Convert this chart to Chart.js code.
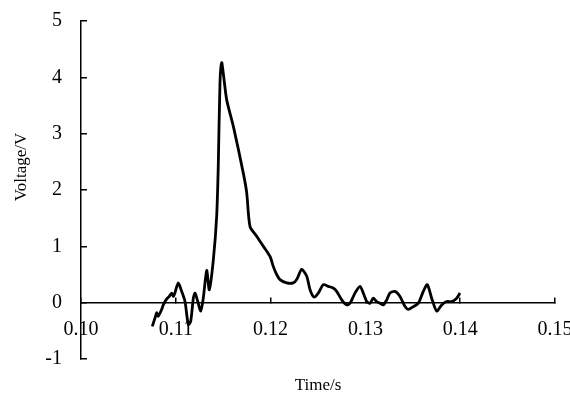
<!DOCTYPE html>
<html>
<head>
<meta charset="utf-8">
<script src="https://cdn.jsdelivr.net/npm/chart.js@4/dist/chart.umd.min.js"></script>
<style>
  html, body { margin: 0; padding: 0; background: #fff; }
  #wrap { width: 570px; height: 394px; }
</style>
</head>
<body>
<div id="wrap"><canvas id="voltageChart"></canvas></div>
<script>
// time (s) and voltage (V)
const timeValues = [
  0.10752, 0.10781, 0.10799, 0.10815, 0.10851, 0.10868, 0.10897, 0.10931, 0.10957, 0.10974,
  0.10992, 0.11026, 0.11062, 0.11097, 0.11132, 0.11157, 0.11185, 0.11203, 0.11227, 0.11263,
  0.11290, 0.11326, 0.11353, 0.11396, 0.11431, 0.11448, 0.11466, 0.11484, 0.11501, 0.11537,
  0.11607, 0.11712, 0.11748, 0.11783, 0.11853, 0.11923, 0.11994, 0.12029, 0.12064, 0.12099,
  0.12170, 0.12239, 0.12275, 0.12328, 0.12381, 0.12416, 0.12458, 0.12503, 0.12556, 0.12609,
  0.12661, 0.12697, 0.12750, 0.12803, 0.12838, 0.12890, 0.12943, 0.12978, 0.13014, 0.13049,
  0.13083, 0.13119, 0.13154, 0.13189, 0.13225, 0.13259, 0.13312, 0.13365, 0.13418, 0.13453,
  0.13505, 0.13558, 0.13611, 0.13653, 0.13699, 0.13752, 0.13805, 0.13858, 0.13910, 0.13963,
  0.13998
];
const voltageValues = [
  -0.42, -0.27, -0.18, -0.24, -0.12, -0.04, 0.05, 0.11, 0.17, 0.11,
  0.18, 0.35, 0.20, 0.02, -0.39, -0.33, 0.08, 0.17, 0.05, -0.15,
  0.08, 0.57, 0.23, 0.76, 1.53, 2.42, 3.90, 4.26, 4.07, 3.60,
  3.13, 2.30, 1.95, 1.35, 1.18, 1.00, 0.82, 0.64, 0.50, 0.41,
  0.35, 0.35, 0.41, 0.59, 0.47, 0.23, 0.10, 0.17, 0.32, 0.29,
  0.26, 0.20, 0.05, -0.04, -0.01, 0.17, 0.29, 0.17, 0.02, -0.01,
  0.08, 0.02, -0.01, -0.04, 0.05, 0.17, 0.20, 0.11, -0.07, -0.12,
  -0.07, -0.01, 0.20, 0.32, 0.08, -0.15, -0.04, 0.02, 0.02, 0.08,
  0.17
];
const xTicks = [0.10, 0.11, 0.12, 0.13, 0.14, 0.15];
const yTicks = [-1, 0, 1, 2, 3, 4, 5];
const xTitle = 'Time/s';
const yTitle = 'Voltage/V';

const serif = "'Liberation Serif', 'Times New Roman', serif";

const points = timeValues.map((t, i) => ({ x: t, y: voltageValues[i] }));

// axis titles, placed against the plot area
const axisTitles = {
  id: 'axisTitles',
  afterDraw(chart) {
    const { ctx, chartArea } = chart;
    ctx.save();
    ctx.fillStyle = '#000';
    ctx.font = '17px ' + serif;
    ctx.textAlign = 'center';
    ctx.textBaseline = 'middle';
    ctx.fillText(xTitle, (chartArea.left + chartArea.right) / 2, chartArea.bottom + 27);
    ctx.translate(chartArea.left - 59, chartArea.top + 146);
    ctx.rotate(-Math.PI / 2);
    ctx.fillText(yTitle, 0, 0);
    ctx.restore();
  }
};

const config = {
  type: 'line',
  data: {
    datasets: [
      {
        data: points,
        borderColor: '#000',
        borderWidth: 2.8,
        pointRadius: 0,
        tension: 0.25,
        fill: false,
      },
    ],
  },
  options: {
    responsive: true,
    maintainAspectRatio: false,
    animation: false,
    layout: { padding: { left: 0, top: 21, right: 15, bottom: 35 } },
    plugins: {
      legend: { display: false },
      tooltip: { enabled: false },
    },
    scales: {
      x: {
        type: 'linear',
        position: { y: 0 },
        min: xTicks[0],
        max: xTicks[xTicks.length - 1],
        afterBuildTicks: scale => {
          scale.ticks = xTicks.map(v => ({ value: v }));
        },
        afterFit: scale => {
          scale.paddingLeft = 0;
          scale.paddingRight = 0;
        },
        ticks: {
          color: '#000',
          font: { family: serif, size: 20 },
          padding: 21,
          maxRotation: 0,
          autoSkip: false,
          callback: v => Number(v).toFixed(2),
        },
        grid: {
          drawOnChartArea: false,
          drawTicks: true,
          tickLength: -6,
          color: '#000',
          lineWidth: 1.5,
        },
        border: { display: true, color: '#000', width: 1.5 },
      },
      y: {
        type: 'linear',
        position: 'left',
        min: yTicks[0],
        max: yTicks[yTicks.length - 1],
        afterBuildTicks: scale => {
          scale.ticks = yTicks.map(v => ({ value: v }));
        },
        afterFit: scale => {
          scale.width = 81;
          scale.paddingTop = 0;
          scale.paddingBottom = 0;
        },
        ticks: {
          color: '#000',
          font: { family: serif, size: 20 },
          padding: 25,
          autoSkip: false,
        },
        grid: {
          drawOnChartArea: false,
          drawTicks: true,
          tickLength: -6,
          color: '#000',
          lineWidth: 1.5,
        },
        border: { display: true, color: '#000', width: 1.5 },
      },
    },
  },
  plugins: [axisTitles],
};

const voltageChart = new Chart(document.getElementById('voltageChart'), config);
</script>
</body>
</html>
